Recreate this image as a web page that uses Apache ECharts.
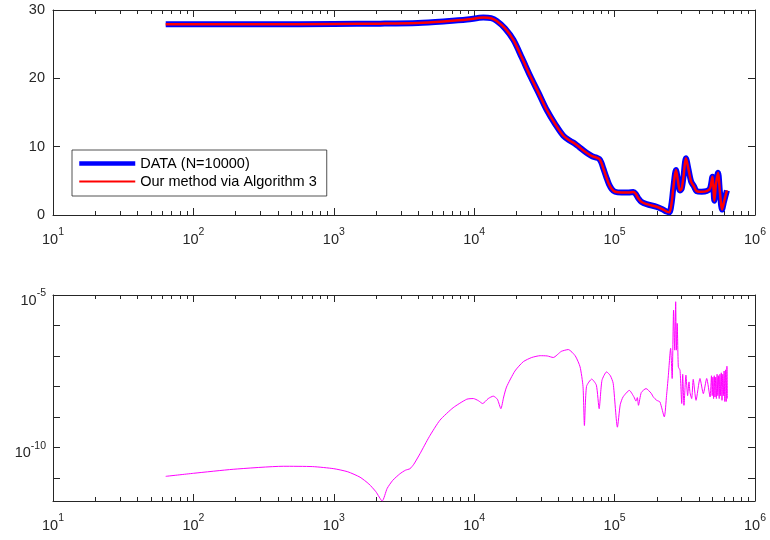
<!DOCTYPE html>
<html><head><meta charset="utf-8">
<script src="https://cdn.jsdelivr.net/npm/echarts@6/dist/echarts.min.js"></script>
<style>html,body{margin:0;padding:0;background:#fff}#c{width:770px;height:540px}</style>
</head><body><div id="c"></div>
<script>
// ---- top panel: frequency grid and magnitudes ----
const topX = [63.5, 100, 316, 1000, 2138, 3981, 6310, 8913, 11614, 13183, 14454, 16596, 19055, 21878,
  25119, 28840, 32810, 38019, 43152, 47863, 52481, 56234, 63096, 69183, 74131, 77625, 80353, 83176,
  87096, 91201, 95499, 100693, 112202, 125893, 135831, 141254, 147911, 154882, 169044, 199526, 218776,
  234963, 245471, 254097, 263027, 273527, 281838, 291743, 299916, 309030, 322107, 334965, 350752,
  367282, 383707, 416869, 452898, 478630, 497737, 505825, 512861, 527230, 545758, 562341, 582103,
  602560, 630957];
const dataValues = [27.9, 27.9, 27.9, 27.95, 28.0, 28.1, 28.35, 28.6, 28.9, 28.8, 28.4, 27.3, 25.6, 23.0,
  20.3, 17.8, 15.4, 13.2, 11.6, 10.9, 10.4, 9.9, 9.1, 8.6, 8.4, 8.2, 7.7, 6.8,
  5.6, 4.5, 3.8, 3.4, 3.3, 3.3, 3.35, 3.1, 2.4, 1.95, 1.6, 1.2, 0.85,
  0.5, 0.4, 1.6, 4.3, 6.6, 5.2, 3.6, 3.8, 5.5, 8.3, 6.8, 4.9,
  4.2, 3.5, 3.4, 3.5, 3.9, 5.6, 4.0, 2.1, 4.5, 6.2, 3.4, 0.8,
  2.0, 3.6];
const methodValues = [27.9, 27.9, 27.9, 27.95, 28.0, 28.1, 28.35, 28.6, 28.9, 28.8, 28.4, 27.3, 25.6, 23.0,
  20.3, 17.8, 15.4, 13.2, 11.6, 10.9, 10.4, 9.9, 9.1, 8.6, 8.4, 8.2, 7.7, 6.8,
  5.6, 4.5, 3.8, 3.4, 3.3, 3.3, 3.35, 3.1, 2.4, 1.95, 1.6, 1.2, 0.85,
  0.5, 0.4, 1.6, 4.3, 6.6, 5.2, 3.6, 3.8, 5.5, 8.3, 6.8, 4.9,
  4.2, 3.5, 3.4, 3.5, 3.9, 5.6, 4.0, 2.1, 4.5, 6.2, 3.4, 0.8,
  2.0, 3.6];

// ---- bottom panel: error ----
const errX = [63.5, 100, 192, 437, 708, 1000, 1259, 1538, 1778, 1995, 2213, 2399, 2630, 2951, 3236, 3491,
  3715, 4111, 4786, 5702, 7079, 8851, 9863, 10715, 11482, 12589, 13677, 14622, 15488, 16218, 16982,
  19498, 22387, 25704, 29512, 33113, 36559, 41687, 46774, 52481, 56754, 59566, 60954, 63096, 68707,
  74131, 77625, 81283, 87700, 93325, 97724, 104713, 109648, 114815, 127350, 137404, 141906, 145211,
  147911, 154882, 167494, 181970, 188799, 199526, 210378, 225943, 234423, 240991, 250611, 257040,
  263027, 267917, 272270, 275423, 279254, 284446, 292415, 300608, 305492, 311889, 322107, 331131,
  338844, 344350, 353997, 363078, 380189, 405509, 428549, 452898, 478630,
  489779, 495450, 501187, 506991, 512861, 518800, 524807, 530884, 537032, 543250, 549541, 555904,
  562341, 568853, 575440, 582103, 588844, 595662, 602560, 609537, 616595, 623735, 630957, 635331];
const errValues = [1.12e-11, 1.41e-11, 1.91e-11, 2.40e-11, 2.34e-11, 2.00e-11, 1.58e-11, 1.05e-11, 6.3e-12, 3.5e-12, 1.74e-12, 4.5e-12, 8.3e-12, 1.35e-11, 1.78e-11, 2.0e-11,
  2.8e-11, 6.2e-11, 2.24e-10, 7.8e-10, 2.0e-9, 3.8e-9, 4.0e-9, 3.4e-9, 2.75e-9, 4.0e-9, 4.8e-9, 3.8e-9, 1.86e-9, 4.5e-9, 9.5e-9,
  3.2e-8, 6.5e-8, 8.9e-8, 1.02e-7, 1.0e-7, 8.9e-8, 1.41e-7, 1.62e-7, 1.0e-7, 4.4e-8, 1.0e-8, 5.2e-10, 1.0e-8, 1.74e-8,
  1.1e-8, 1.86e-9, 1.58e-8, 3.0e-8, 2.24e-8, 1.26e-8, 4.6e-10, 2.5e-9, 4.5e-9, 7.4e-9, 4.5e-9, 3.3e-9, 4.3e-9,
  2.4e-9, 6.3e-9, 8.5e-9, 6.0e-9, 4.5e-9, 3.5e-9, 3.1e-9, 1.0e-9, 5.0e-9, 2.04e-8, 1.78e-7, 1.82e-8,
  3.2e-6, 1.55e-7, 6.0e-6, 1.55e-7, 1.17e-6, 4.4e-8, 3.4e-8, 2.75e-9, 2.5e-8, 2.4e-9, 2.34e-8, 5.0e-9,
  1.41e-8, 6.3e-9, 4.0e-9, 1.7e-8, 3.5e-9, 1.82e-8, 5.8e-9, 1.82e-8, 4.5e-9,
  2.24e-8, 5.0e-9, 2.0e-8, 4.0e-9, 2.24e-8, 4.5e-9, 2.0e-8, 4.0e-9, 2.5e-8, 5.0e-9, 2.24e-8, 4.0e-9,
  2.5e-8, 5.0e-9, 2.8e-8, 3.5e-9, 2.5e-8, 5.0e-9, 3.2e-8, 3.2e-9, 3.5e-8, 3.2e-9, 4.6e-8, 4.0e-9];

// ---- axes / labels ----
const xDecades = [10, 100, 1000, 10000, 100000, 1000000];
const minorMultipliers = [2, 3, 4, 5, 6, 7, 8, 9];
const topYTicks = [0, 10, 20, 30];
const errLabelExponents = [-10, -5];
const errYMin = 1.74e-12, errYMax = 1e-5;
const seriesNames = ['DATA (N=10000)', 'Our method via Algorithm 3', 'error'];

// minor tick positions expressed in decades (for a linear helper axis spanning the same decades)
const minorXDecades = [];
xDecades.slice(0, -1).forEach(d => minorMultipliers.forEach(m => minorXDecades.push(Math.log10(m * d))));
const decadeMin = Math.log10(xDecades[0]), decadeMax = Math.log10(xDecades[xDecades.length - 1]);

const FONT = '"Liberation Sans", Arial, Helvetica, sans-serif';
const AX = '#262626';
const rich = {
  b: { fontSize: 14.5, lineHeight: 20, verticalAlign: 'bottom', color: AX, fontFamily: FONT },
  s: { fontSize: 10.5, lineHeight: 11, verticalAlign: 'top', color: AX, fontFamily: FONT }
};
function pow10Label(v) {
  const e = Math.round(Math.log10(v));
  return '{b|10}{s|' + e + '}';
}
function xAxesFor(g) {
  const base = { gridIndex: g, type: 'log', logBase: 10, min: xDecades[0], max: xDecades[xDecades.length - 1],
    splitLine: { show: false }, splitArea: { show: false } };
  const minorBase = { gridIndex: g, type: 'value', min: decadeMin, max: decadeMax, splitLine: { show: false } };
  const line = { show: true, onZero: false, lineStyle: { color: AX, width: 1 } };
  const noLine = { show: false, onZero: false };
  return [
    Object.assign({}, base, { position: 'bottom', axisLine: line,
      axisTick: { show: true, inside: true, length: 7, lineStyle: { color: AX } },
      axisLabel: { show: true, margin: 12, formatter: pow10Label, rich: rich } }),
    Object.assign({}, minorBase, { position: 'bottom', axisLine: noLine,
      axisTick: { show: true, inside: true, length: 4, customValues: minorXDecades, lineStyle: { color: AX } },
      axisLabel: { show: false } }),
    Object.assign({}, base, { position: 'top', axisLine: line,
      axisTick: { show: true, inside: true, length: 7, lineStyle: { color: AX } },
      axisLabel: { show: false } }),
    Object.assign({}, minorBase, { position: 'top', axisLine: noLine,
      axisTick: { show: true, inside: true, length: 4, customValues: minorXDecades, lineStyle: { color: AX } },
      axisLabel: { show: false } })
  ];
}
const line = { show: true, onZero: false, lineStyle: { color: AX, width: 1 } };
const tick = { show: true, inside: true, length: 7, lineStyle: { color: AX } };

const option = {
  animation: false,
  backgroundColor: '#fff',
  grid: [
    { left: 53, right: 15, top: 10, height: 205, outerBoundsMode: 'none', containLabel: false },
    { left: 53, right: 15, top: 295, height: 206, outerBoundsMode: 'none', containLabel: false }
  ],
  xAxis: xAxesFor(0).concat(xAxesFor(1)),
  yAxis: [
    { gridIndex: 0, type: 'value', min: topYTicks[0], max: topYTicks[topYTicks.length - 1], interval: 10,
      position: 'left', axisLine: line, axisTick: tick, splitLine: { show: false },
      axisLabel: { margin: 8, fontSize: 14.5, color: AX, fontFamily: FONT } },
    { gridIndex: 0, type: 'value', min: topYTicks[0], max: topYTicks[topYTicks.length - 1], interval: 10,
      position: 'right', axisLine: line, axisTick: tick, splitLine: { show: false }, axisLabel: { show: false } },
    { gridIndex: 1, type: 'log', logBase: 10, min: errYMin, max: errYMax,
      position: 'left', axisLine: line, axisTick: tick, splitLine: { show: false },
      axisLabel: { margin: 7, padding: [6, 0, 0, 0], rich: rich, showMinLabel: false,
        formatter: function (v) {
          const l = Math.log10(v), e = Math.round(l);
          if (Math.abs(l - e) > 1e-6 || errLabelExponents.indexOf(e) < 0) return '';
          return pow10Label(v);
        } } },
    { gridIndex: 1, type: 'log', logBase: 10, min: errYMin, max: errYMax,
      position: 'right', axisLine: line, axisTick: tick, splitLine: { show: false }, axisLabel: { show: false } }
  ],
  legend: {
    orient: 'vertical', left: 72, top: 150,
    padding: [6, 10, 7, 5], itemGap: 3, itemWidth: 56, itemHeight: 16,
    backgroundColor: '#fff', borderColor: AX, borderWidth: 0.8, borderRadius: 0,
    textStyle: { fontSize: 14.5, color: '#000', fontFamily: FONT },
    itemStyle: { opacity: 0 },
    data: [
      { name: seriesNames[0], lineStyle: { width: 4.5 } },
      { name: seriesNames[1], lineStyle: { width: 2 } }
    ]
  },
  series: [
    { name: seriesNames[0], type: 'line', xAxisIndex: 0, yAxisIndex: 0, symbol: 'none', smooth: 0.3,
      lineStyle: { color: '#0000FF', width: 6 }, itemStyle: { color: '#0000FF' },
      data: topX.map((x, i) => [x, dataValues[i]]) },
    { name: seriesNames[1], type: 'line', xAxisIndex: 0, yAxisIndex: 0, symbol: 'none', smooth: 0.3,
      lineStyle: { color: '#FF0000', width: 2.5 }, itemStyle: { color: '#FF0000' },
      data: topX.map((x, i) => [x, methodValues[i]]) },
    { name: seriesNames[2], type: 'line', xAxisIndex: 4, yAxisIndex: 2, symbol: 'none', smooth: 0.2,
      lineStyle: { color: '#FF00FF', width: 1 }, itemStyle: { color: '#FF00FF' },
      data: errX.map((x, i) => [x, errValues[i]]) }
  ]
};
const chart = echarts.init(document.getElementById('c'), null, { renderer: 'canvas' });
chart.setOption(option);
</script>
</body></html>
